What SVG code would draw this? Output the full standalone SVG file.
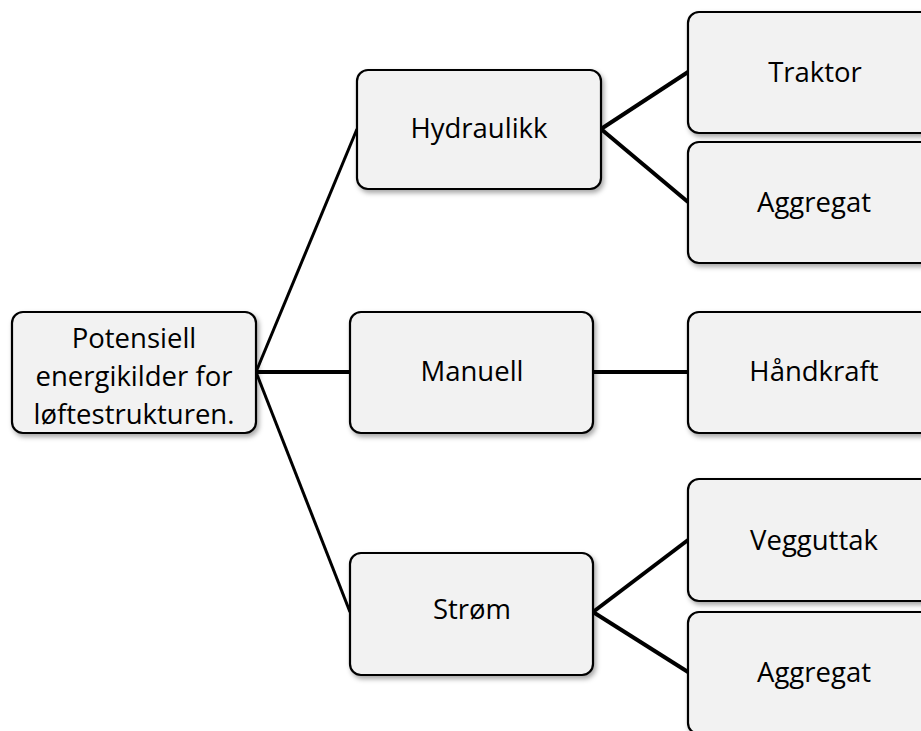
<svg xmlns="http://www.w3.org/2000/svg" width="921" height="731" viewBox="0 0 921 731">
<defs>
<filter id="sh" x="-10%" y="-10%" width="120%" height="130%">
<feDropShadow dx="2" dy="3" stdDeviation="2.5" flood-color="#000" flood-opacity="0.35"/>
</filter>
<style>
.box{fill:#f2f2f2;stroke:#000;stroke-width:2.2;filter:url(#sh)}
.t{font-family:"Open Sans","Liberation Sans",sans-serif;font-size:27.5px;fill:#000;text-anchor:middle}
.c{stroke:#000;fill:none;stroke-linecap:butt}
.c1{stroke-width:3}
.c2{stroke-width:4}
</style>
</defs>
<rect width="921" height="731" fill="#fff"/>
<g id="connectors">
<line class="c c1" x1="256" y1="372" x2="357" y2="129"/>
<line class="c c2" x1="256" y1="372" x2="350" y2="372"/>
<line class="c c1" x1="256" y1="372" x2="350" y2="612"/>
<line class="c c2" x1="601" y1="129" x2="688" y2="72"/>
<line class="c c2" x1="601" y1="129" x2="688" y2="202"/>
<line class="c c2" x1="593" y1="372" x2="688" y2="372"/>
<line class="c c2" x1="593" y1="612" x2="688" y2="540"/>
<line class="c c2" x1="593" y1="612" x2="688" y2="672"/>
</g>
<g id="root">
<rect class="box" x="12" y="312" width="244" height="121" rx="11"/>
<text class="t" x="134" y="348">Potensiell</text>
<text class="t" x="134" y="386">energikilder for</text>
<text class="t" x="134" y="424">løftestrukturen.</text>
</g>
<g id="hydraulikk">
<rect class="box" x="357" y="70" width="244" height="119" rx="11"/>
<text class="t" x="479" y="138">Hydraulikk</text>
</g>
<g id="manuell">
<rect class="box" x="350" y="312" width="243" height="121" rx="11"/>
<text class="t" x="472" y="381">Manuell</text>
</g>
<g id="strom">
<rect class="box" x="350" y="553" width="243" height="122" rx="11"/>
<text class="t" x="472" y="619">Strøm</text>
</g>
<g id="traktor">
<rect class="box" x="688" y="12" width="254" height="121" rx="11"/>
<text class="t" x="815" y="82">Traktor</text>
</g>
<g id="aggregat1">
<rect class="box" x="688" y="142" width="254" height="121" rx="11"/>
<text class="t" x="814" y="212">Aggregat</text>
</g>
<g id="handkraft">
<rect class="box" x="688" y="312" width="254" height="121" rx="11"/>
<text class="t" x="814" y="381">Håndkraft</text>
</g>
<g id="vegguttak">
<rect class="box" x="688" y="479" width="254" height="122" rx="11"/>
<text class="t" x="814" y="550">Vegguttak</text>
</g>
<g id="aggregat2">
<rect class="box" x="688" y="612" width="254" height="122" rx="11"/>
<text class="t" x="814" y="682">Aggregat</text>
</g>
</svg>
